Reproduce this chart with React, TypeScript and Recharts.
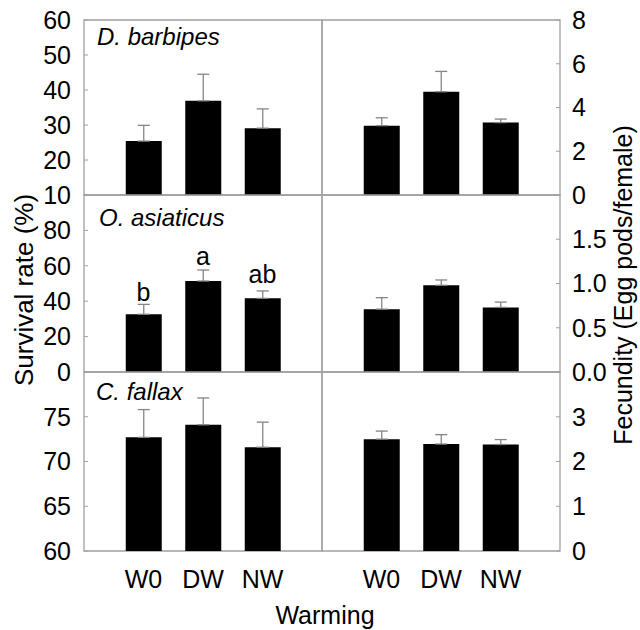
import React from "react";
import {
  ComposedChart,
  Bar,
  ErrorBar,
  XAxis,
  YAxis,
  ReferenceArea,
  Scatter,
} from "recharts";

// ---------- data ----------
const categories = ["W0", "DW", "NW"];
const species = ["D. barbipes", "O. asiaticus", "C. fallax"];

const survivalDB = [25.4, 36.9, 29.1];
const survivalDBse = [4.5, 7.6, 5.5];
const survivalOA = [32.6, 51.4, 41.6];
const survivalOAse = [5.6, 6.2, 4.2];
const survivalCF = [72.7, 74.1, 71.6];
const survivalCFse = [3.1, 3.0, 2.8];

const fecundityDB = [3.17, 4.72, 3.31];
const fecundityDBse = [0.36, 0.93, 0.16];
const fecundityOA = [0.71, 0.98, 0.73];
const fecundityOAse = [0.13, 0.06, 0.06];
const fecundityCF = [2.5, 2.39, 2.38];
const fecundityCFse = [0.18, 0.21, 0.11];

const lettersOA = ["b", "a", "ab"];
const letterPosOA = [45.2, 65.5, 55.4];

const survivalDomains: [number, number][] = [[10, 60], [0, 100], [60, 80]];
const survivalTicks = [
  [10, 20, 30, 40, 50, 60],
  [0, 20, 40, 60, 80],
  [60, 65, 70, 75],
];
const fecundityDomains: [number, number][] = [[0, 8], [0, 2], [0, 4]];
const fecundityTicks = [
  [0, 2, 4, 6, 8],
  [0, 0.5, 1.0, 1.5],
  [0, 1, 2, 3],
];
const fecundityDecimals = [0, 1, 0];

// ---------- layout ----------
const W = 640;
const H = 630;
const FONT = "'Liberation Sans', Arial, Helvetica, sans-serif";
const rowEdges = [20, 195, 372, 551];
const colEdges = [84, 322, 560];
const BORDER = "#a0a0a0";
const ERR = "#858585";

function build(means: number[], se: number[], letters?: string[], lpos?: number[]) {
  return categories.map((c, i) => ({
    x: i + 1,
    cat: c,
    mean: means[i],
    err: [0, se[i]],
    letter: letters ? letters[i] : "",
    lp: lpos ? lpos[i] : null,
  }));
}

const leftData = [
  build(survivalDB, survivalDBse),
  build(survivalOA, survivalOAse, lettersOA, letterPosOA),
  build(survivalCF, survivalCFse),
];
const rightData = [
  build(fecundityDB, fecundityDBse),
  build(fecundityOA, fecundityOAse),
  build(fecundityCF, fecundityCFse),
];

const tickStyle = { fontSize: 25, fill: "#000", fontFamily: FONT };

const LetterShape = (props: any) => {
  const { cx, cy, payload } = props;
  if (cx == null || cy == null) return null;
  return (
    <text
      x={cx}
      y={cy}
      dy="0.35em"
      textAnchor="middle"
      fontSize={25}
      fontFamily={FONT}
      fill="#000"
    >
      {payload.letter}
    </text>
  );
};

function Panel({ row, side }: { row: number; side: "left" | "right" }) {
  const top = rowEdges[row];
  const bottom = rowEdges[row + 1];
  const isBottom = row === 2;
  const axisW = 60;
  const xAxisH = 40;
  const data = side === "left" ? leftData[row] : rightData[row];
  const domain = side === "left" ? survivalDomains[row] : fecundityDomains[row];
  const ticks = side === "left" ? survivalTicks[row] : fecundityTicks[row];
  const margin =
    side === "left"
      ? { left: colEdges[0] - axisW, right: W - colEdges[1], top, bottom: H - bottom - (isBottom ? xAxisH : 0) }
      : { left: colEdges[1], right: W - colEdges[2] - axisW, top, bottom: H - bottom - (isBottom ? xAxisH : 0) };
  const dec = fecundityDecimals[row];
  return (
    <div style={{ position: "absolute", left: 0, top: 0, width: W, height: H }}>
      <ComposedChart width={W} height={H} data={data} margin={margin}>
        <XAxis
          dataKey="x"
          type="number"
          domain={[0, 4]}
          ticks={[1, 2, 3]}
          tickFormatter={(v: number) => categories[v - 1]}
          hide={!isBottom}
          height={xAxisH}
          axisLine={false}
          tickLine={false}
          tickSize={0}
          tickMargin={19}
          tick={tickStyle}
          allowDataOverflow
        />
        <YAxis
          orientation={side}
          type="number"
          domain={domain}
          ticks={ticks}
          allowDataOverflow
          width={axisW}
          axisLine={false}
          tickSize={-4}
          tickMargin={side === "left" ? 17 : 16}
          tickLine={{ stroke: BORDER }}
          tick={tickStyle}
          interval={0}
          tickFormatter={(v: number) => (side === "left" ? String(v) : v.toFixed(dec))}
        />
        <Bar dataKey="mean" fill="#000" barSize={36} isAnimationActive={false}>
          <ErrorBar dataKey="err" width={6} stroke={ERR} strokeWidth={1.3} direction="y" />
        </Bar>
        {side === "left" && row === 1 && (
          <Scatter dataKey="lp" shape={LetterShape} isAnimationActive={false} />
        )}
        <ReferenceArea
          x1={0}
          x2={4}
          y1={domain[0]}
          y2={domain[1]}
          fill="none"
          fillOpacity={0}
          stroke={BORDER}
          strokeWidth={1.3}
          ifOverflow="visible"
        />
      </ComposedChart>
    </div>
  );
}

const speciesPos = [
  { x: 97, y: 45 },
  { x: 99, y: 226 },
  { x: 96, y: 400 },
];

export default function App() {
  return (
    <div style={{ position: "absolute", left: 0, top: 0, width: W, height: H, background: "#fff" }}>
      {[0, 1, 2].map((r) => (
        <React.Fragment key={r}>
          <Panel row={r} side="left" />
          <Panel row={r} side="right" />
        </React.Fragment>
      ))}
      <svg
        width={W}
        height={H}
        style={{ position: "absolute", left: 0, top: 0, pointerEvents: "none" }}
        fontFamily={FONT}
      >
        {species.map((s, i) => (
          <text key={s} x={speciesPos[i].x} y={speciesPos[i].y} fontSize={24} fontStyle="italic" fill="#000">
            {s}
          </text>
        ))}
        <text
          transform="translate(33,290) rotate(-90)"
          textAnchor="middle"
          fontSize={26}
          fill="#000"
        >
          Survival rate (%)
        </text>
        <text
          transform="translate(632,285) rotate(-90)"
          textAnchor="middle"
          fontSize={25}
          fill="#000"
        >
          Fecundity (Egg pods/female)
        </text>
        <text x={325} y={624} textAnchor="middle" fontSize={25} fill="#000">
          Warming
        </text>
      </svg>
    </div>
  );
}
